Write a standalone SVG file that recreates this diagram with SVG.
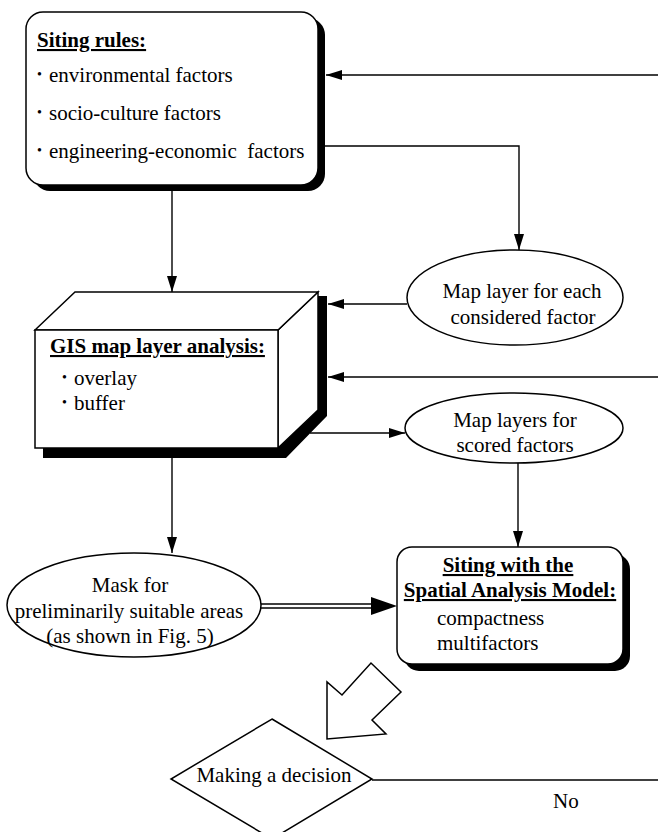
<svg xmlns="http://www.w3.org/2000/svg" width="658" height="832" viewBox="0 0 658 832">
<style>
text{font-family:"Liberation Serif","Times New Roman",serif;font-size:21px;fill:#000}
.b{font-weight:bold;text-decoration:underline}
.m{text-anchor:middle}
.bul{font-size:14px}
.ln{fill:none;stroke:#000;stroke-width:1.4}
.box{fill:#fff;stroke:#000;stroke-width:1.5}
.sh{fill:#000}
</style>
<defs>
<marker id="ah" viewBox="0 0 16 10" refX="16" refY="5" markerWidth="16" markerHeight="10" markerUnits="userSpaceOnUse" orient="auto">
<path d="M0,0 L16,5 L0,10 z" fill="#000"/>
</marker>
</defs>
<rect width="658" height="832" fill="#fff"/>

<g id="siting-rules">
<rect class="sh" x="33" y="18" width="292" height="173" rx="17"/>
<rect class="box" x="26" y="12" width="292" height="173" rx="17"/>
<text class="b" x="37" y="47">Siting rules:</text>
<text x="37" y="82"><tspan class="bul" dy="-3">•</tspan><tspan x="49" dy="3">environmental factors</tspan></text>
<text x="37" y="120"><tspan class="bul" dy="-3">•</tspan><tspan x="49" dy="3">socio-culture factors</tspan></text>
<text x="37" y="158" xml:space="preserve"><tspan class="bul" dy="-3">•</tspan><tspan x="49" dy="3">engineering-economic  factors</tspan></text>
</g>

<g id="map-layer-each">
<ellipse class="box" cx="515" cy="297.5" rx="108" ry="47.5"/>
<text class="m" x="522" y="298">Map layer for each</text>
<text class="m" x="523" y="324">considered factor</text>
</g>

<g id="gis-analysis">
<polygon class="sh" points="318,296 327,296 327,416 286,458 43,458 43,448 278,448 318,410"/>
<polygon class="box" points="278,330 318,292 318,410 278,448"/>
<polygon class="box" points="35,330 75,292 318,292 278,330"/>
<rect class="box" x="35" y="330" width="243" height="118"/>
<text class="b" x="50" y="353">GIS map layer analysis:</text>
<text x="62" y="385"><tspan class="bul" dy="-3">•</tspan><tspan x="74" dy="3">overlay</tspan></text>
<text x="62" y="410"><tspan class="bul" dy="-3">•</tspan><tspan x="74" dy="3">buffer</tspan></text>
</g>

<g id="map-layers-scored">
<ellipse class="box" cx="514" cy="428" rx="109" ry="35"/>
<text class="m" x="515" y="427">Map layers for</text>
<text class="m" x="515" y="452">scored factors</text>
</g>

<g id="mask">
<ellipse class="box" cx="134" cy="605" rx="127" ry="52"/>
<text class="m" x="130" y="592">Mask for</text>
<text class="m" x="129" y="618">preliminarily suitable areas</text>
<text class="m" x="130" y="643">(as shown in Fig. 5)</text>
</g>

<g id="siting-spatial">
<rect class="sh" x="404" y="554" width="226" height="117" rx="15"/>
<rect class="box" x="397" y="547" width="226" height="117" rx="15"/>
<text class="b m" x="508" y="572">Siting with the</text>
<text class="b m" x="510" y="597">Spatial Analysis Model:</text>
<text x="437" y="625">compactness</text>
<text x="437" y="650">multifactors</text>
</g>

<g id="decision">
<polygon class="box" points="272,719 372,779 272,839 171,779"/>
<text class="m" x="274" y="782">Making a decision</text>
</g>

<g id="connectors">
<line class="ln" x1="658" y1="75" x2="326" y2="75" marker-end="url(#ah)"/>
<polyline class="ln" points="325,146 519,146 519,250" marker-end="url(#ah)"/>
<line class="ln" x1="172" y1="191" x2="172" y2="292" marker-end="url(#ah)"/>
<line class="ln" x1="407" y1="304" x2="328" y2="304" marker-end="url(#ah)"/>
<line class="ln" x1="658" y1="377" x2="328" y2="377" marker-end="url(#ah)"/>
<line class="ln" x1="310" y1="433" x2="405" y2="433" marker-end="url(#ah)"/>
<line class="ln" x1="518" y1="463" x2="518" y2="547" marker-end="url(#ah)"/>
<line class="ln" x1="172" y1="458" x2="172" y2="553" marker-end="url(#ah)"/>
<line class="ln" x1="261" y1="604" x2="375" y2="604"/>
<line class="ln" x1="261" y1="608" x2="375" y2="608"/>
<polygon points="371,597 397,606 371,615" fill="#000"/>
<polygon class="box" points="327,739 327,682 342,695 371,663 401,692 372,720 386,734"/>
<line class="ln" x1="372" y1="780" x2="658" y2="780"/>
<text x="553" y="808">No</text>
</g>
</svg>
